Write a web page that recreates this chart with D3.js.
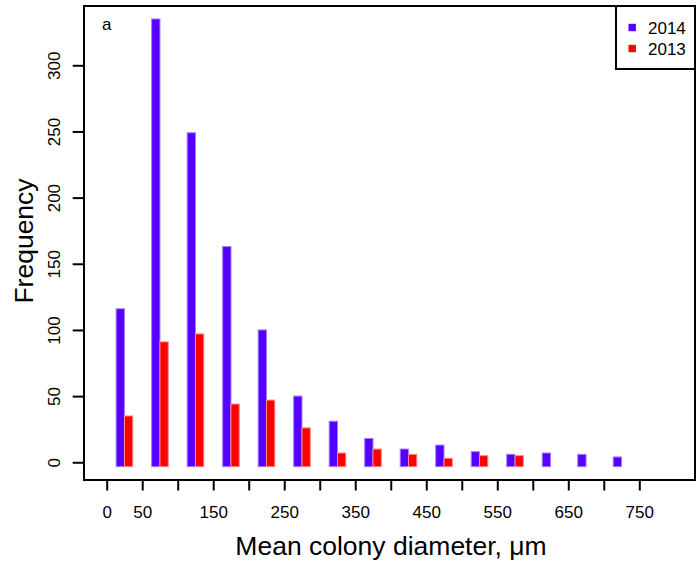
<!DOCTYPE html>
<html>
<head>
<meta charset="utf-8">
<script src="https://cdn.jsdelivr.net/npm/d3@7"></script>
<style>
  html, body { margin: 0; padding: 0; background: #fff; }
  svg { display: block; font-family: "Liberation Sans", Arial, Helvetica, sans-serif; }
</style>
</head>
<body>
<svg id="chart" width="698" height="561"></svg>
<script>
// Colony diameter bins (lower edge, µm), 50 µm wide
const binStarts = [0, 50, 100, 150, 200, 250, 300, 350, 400, 450, 500, 550, 600, 650, 700];
// Frequencies per bin for each survey year
const freq2014 = [116, 335, 249, 163, 100, 50, 31, 18, 10, 13, 8, 6, 7, 6, 4];
const freq2013 = [35, 91, 97, 44, 47, 26, 7, 10, 6, 3, 5, 5, 0, 0, 0];
const seriesNames = ["2014", "2013"];
const seriesColors = ["#5500ff", "#ff0000"];
const seriesEdges = ["#a27dff", "#ff8a8a"];

const xTicks = [0, 50, 100, 150, 200, 250, 300, 350, 400, 450, 500, 550, 600, 650, 700, 750];
const xTickLabels = ["0", "50", "150", "250", "350", "450", "550", "650", "750"];
const yTicks = [0, 50, 100, 150, 200, 250, 300];

const binWidth = 50;
const barUnits = 11.7;     // width of a single bar in µm units

const svg = d3.select("#chart");

// plot box
const box = { left: 84, right: 695, top: 6, bottom: 480 };

const x = d3.scaleLinear().domain([0, 750]).range([106.7, 639.3]);
const y = d3.scaleLinear().domain([-13.4, 344.8]).range([box.bottom, box.top]);
const barDrop = 4.4;       // bars hang slightly below the zero line

const bars = svg.append("g");
const series = [freq2014, freq2013];
series.forEach((vals, s) => {
  bars.selectAll(null)
    .data(binStarts.map((b, i) => ({ b, v: vals[i] })).filter(d => d.v > 0))
    .enter()
    .append("rect")
    .attr("x", d => {
      const c = x(d.b + binWidth / 2);
      const w = x(barUnits) - x(0);
      return s === 0 ? c - w : c;
    })
    .attr("width", x(barUnits) - x(0))
    .attr("y", d => y(d.v))
    .attr("height", d => y(0) + barDrop - y(d.v))
    .attr("fill", seriesColors[s])
    .attr("stroke", seriesEdges[s])
    .attr("stroke-width", 1);
});

// frame
svg.append("rect")
  .attr("x", box.left).attr("y", box.top)
  .attr("width", box.right - box.left).attr("height", box.bottom - box.top)
  .attr("fill", "none").attr("stroke", "#000").attr("stroke-width", 2);

// x axis
const xAxis = d3.axisBottom(x)
  .tickValues(xTicks)
  .tickSize(10.5)
  .tickPadding(6)
  .tickFormat(d => xTickLabels.includes(String(d)) ? String(d) : "");
const gx = svg.append("g").attr("transform", `translate(0,${box.bottom})`).call(xAxis);
gx.select(".domain").remove();
gx.selectAll(".tick line").attr("stroke", "#000").attr("stroke-width", 2);
gx.selectAll(".tick text")
  .attr("font-size", 17).attr("font-family", "Liberation Sans, Arial, sans-serif")
  .attr("fill", "#000").attr("dy", null).attr("y", 0)
  .attr("transform", "translate(0,38)");

// y axis
const yAxis = d3.axisLeft(y).tickValues(yTicks).tickSize(11.3).tickFormat(d3.format("d"));
const gy = svg.append("g").attr("transform", `translate(${box.left},0)`).call(yAxis);
gy.select(".domain").remove();
gy.selectAll(".tick line").attr("stroke", "#000").attr("stroke-width", 2);
gy.selectAll(".tick text")
  .attr("font-size", 17).attr("font-family", "Liberation Sans, Arial, sans-serif")
  .attr("fill", "#000")
  .attr("x", null).attr("dy", null)
  .attr("text-anchor", "middle")
  .attr("transform", "translate(-24,0) rotate(-90)");

// panel letter
svg.append("text").attr("x", 106.7).attr("y", 29.5)
  .attr("text-anchor", "middle").attr("font-size", 17).text("a");

// axis titles
svg.append("text").attr("x", 391).attr("y", 555)
  .attr("text-anchor", "middle").attr("font-size", 26.5).text("Mean colony diameter, μm");
svg.append("text").attr("transform", "translate(33,241) rotate(-90)")
  .attr("text-anchor", "middle").attr("font-size", 26.5).text("Frequency");

// legend
const lg = svg.append("g");
lg.append("rect").attr("x", 616).attr("y", 6).attr("width", 695 - 616).attr("height", 69 - 6)
  .attr("fill", "#fff").attr("stroke", "#000").attr("stroke-width", 2);
seriesNames.forEach((name, i) => {
  const cy = 27.5 + i * 21;
  lg.append("rect").attr("x", 628.5).attr("y", cy - 3.7).attr("width", 7.4).attr("height", 7.4)
    .attr("fill", seriesColors[i]);
  lg.append("text").attr("x", 648).attr("y", cy + 6.3).attr("font-size", 17).text(name);
});
</script>
</body>
</html>
